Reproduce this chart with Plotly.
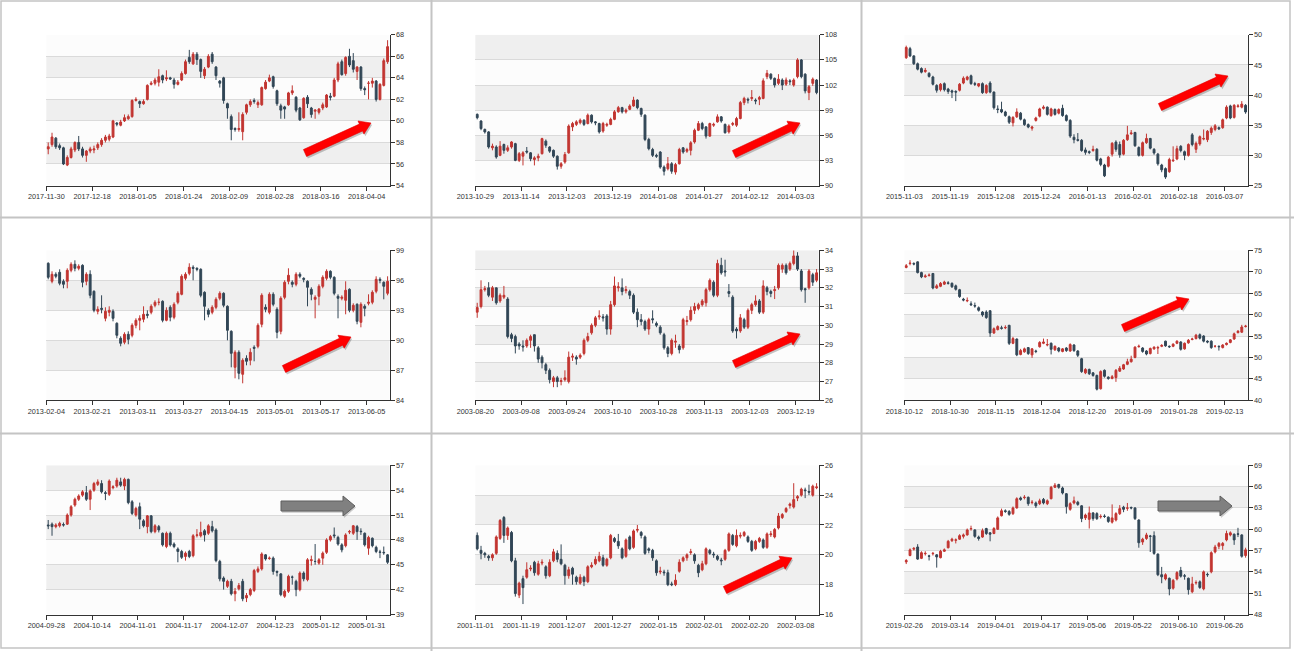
import math

import plotly.graph_objects as go


# --- data: 9 candlestick panels, 90 trading days each ---

p1_ticks = ["2017-11-30", "2017-12-18", "2018-01-05", "2018-01-24", "2018-02-09", "2018-02-28", "2018-03-16", "2018-04-04"]
p1_open = [57.4, 57.8, 58.4, 57.7, 57.5, 55.9, 56.6, 57.3, 58.0, 57.4,
           56.8, 57.2, 57.3, 57.5, 57.8, 58.2, 58.3, 58.5, 59.8, 59.6,
           60.0, 60.2, 60.4, 61.9, 61.8, 61.6, 62.0, 63.4, 63.5, 63.6,
           64.2, 63.9, 64.0, 63.8, 63.4, 63.8, 64.4, 65.9, 65.3, 66.2,
           65.7, 64.2, 65.0, 66.2, 65.0, 63.7, 64.0, 61.6, 60.4, 59.3,
           59.2, 59.0, 60.8, 61.5, 61.9, 61.5, 61.5, 63.0, 63.7, 64.1,
           62.8, 61.4, 61.3, 61.5, 62.6, 62.2, 61.2, 60.3, 62.2, 61.2,
           60.9, 60.8, 61.2, 61.3, 62.3, 62.3, 63.8, 65.5, 64.4, 66.0,
           65.6, 64.6, 65.0, 63.0, 63.5, 63.5, 63.7, 62.0, 63.3, 65.5]
p1_close = [57.6, 58.5, 57.6, 57.5, 56.0, 56.6, 57.4, 58.0, 57.4, 56.8,
            57.2, 57.4, 57.4, 57.8, 58.2, 58.5, 58.6, 60.0, 59.7, 59.9,
            60.3, 60.4, 61.9, 62.0, 61.6, 61.8, 63.3, 63.5, 63.8, 64.1,
            63.8, 64.0, 63.9, 63.4, 63.6, 64.4, 65.5, 65.5, 66.2, 65.7,
            64.6, 64.8, 66.0, 65.5, 64.2, 63.5, 61.9, 61.2, 59.2, 59.2,
            59.3, 60.6, 61.5, 61.8, 61.8, 61.7, 63.1, 63.6, 64.0, 63.2,
            61.6, 61.0, 61.1, 62.6, 62.8, 61.0, 60.1, 62.1, 61.6, 60.6,
            61.0, 61.1, 61.5, 62.4, 62.2, 63.8, 65.3, 64.3, 65.9, 65.2,
            64.8, 65.0, 63.0, 62.9, 63.5, 63.7, 62.0, 63.4, 65.6, 66.9]
p1_high = [58.0, 58.9, 58.5, 57.9, 57.6, 56.8, 57.6, 58.1, 58.6, 57.6,
           57.3, 57.6, 57.7, 58.0, 58.4, 58.7, 58.8, 60.1, 59.9, 60.1,
           60.6, 60.6, 62.0, 62.2, 61.9, 62.0, 63.4, 63.7, 64.0, 64.8,
           64.3, 64.7, 64.1, 64.0, 63.8, 64.6, 65.7, 66.6, 66.4, 66.4,
           65.8, 65.0, 66.2, 66.4, 65.1, 63.8, 64.1, 61.7, 60.6, 59.4,
           60.8, 60.8, 61.6, 62.0, 62.1, 61.9, 63.2, 63.8, 64.3, 64.2,
           62.9, 61.6, 61.4, 62.7, 63.3, 62.3, 61.3, 62.2, 62.4, 61.3,
           61.1, 61.2, 61.7, 62.5, 62.6, 64.0, 65.5, 65.7, 66.0, 66.7,
           66.3, 65.1, 65.1, 63.2, 63.7, 64.0, 63.8, 63.5, 65.8, 67.5]
p1_low = [56.9, 57.6, 57.4, 57.3, 55.9, 55.8, 56.5, 57.1, 57.2, 56.6,
          56.2, 57.0, 57.0, 57.3, 57.6, 58.0, 58.1, 58.4, 59.5, 59.5,
          59.9, 60.1, 60.3, 61.8, 61.2, 61.5, 61.9, 63.3, 63.3, 63.2,
          63.5, 63.7, 63.8, 63.0, 63.3, 63.7, 64.3, 65.3, 65.2, 65.2,
          64.0, 63.9, 64.9, 65.3, 63.8, 63.1, 61.6, 60.2, 58.2, 59.0,
          59.0, 58.2, 60.6, 61.3, 61.6, 61.2, 61.4, 62.9, 63.6, 63.0,
          61.4, 60.2, 60.2, 61.4, 62.4, 60.8, 60.0, 60.2, 61.2, 60.3,
          60.2, 60.6, 61.0, 61.2, 61.9, 62.2, 63.6, 64.2, 64.2, 65.0,
          64.5, 63.8, 62.8, 62.4, 62.0, 63.1, 61.8, 61.9, 63.2, 65.3]

p2_ticks = ["2013-10-29", "2013-11-14", "2013-12-03", "2013-12-19", "2014-01-08", "2014-01-27", "2014-02-12", "2014-03-03"]
p2_open = [98.5, 97.7, 96.7, 96.4, 94.5, 94.6, 93.6, 94.9, 94.2, 94.6,
           95.0, 93.0, 93.5, 94.1, 93.9, 93.1, 93.3, 93.8, 95.3, 94.6,
           94.2, 93.5, 92.3, 92.8, 93.9, 97.0, 97.3, 97.5, 97.8, 97.4,
           98.4, 97.6, 97.4, 96.5, 97.2, 97.3, 97.9, 98.8, 99.3, 98.8,
           99.1, 99.5, 100.2, 99.2, 98.4, 95.5, 94.3, 93.6, 94.0, 92.2,
           92.0, 92.6, 91.6, 92.6, 94.5, 94.1, 94.2, 95.2, 96.6, 97.4,
           97.0, 95.9, 97.2, 97.6, 98.2, 97.3, 96.4, 97.3, 97.2, 98.0,
           99.9, 100.3, 100.4, 100.2, 100.3, 100.4, 103.0, 103.3, 102.8, 102.2,
           102.6, 102.1, 102.5, 102.0, 103.0, 105.0, 103.3, 101.1, 102.2, 102.6]
p2_close = [98.1, 96.8, 96.4, 94.6, 94.7, 93.4, 94.7, 94.2, 94.5, 95.2,
            93.0, 93.8, 93.9, 94.0, 93.2, 93.3, 93.5, 95.6, 94.8, 94.1,
            93.5, 92.3, 92.6, 93.7, 97.1, 97.4, 97.6, 97.8, 97.3, 98.4,
            97.6, 97.5, 96.4, 97.4, 97.3, 97.9, 98.8, 99.3, 98.8, 99.0,
            99.5, 100.2, 99.3, 98.5, 95.5, 94.4, 93.6, 93.5, 92.2, 91.7,
            92.6, 91.7, 92.5, 94.3, 94.0, 94.3, 95.1, 96.6, 97.4, 96.8,
            95.9, 97.4, 97.3, 98.2, 97.7, 96.3, 97.1, 97.4, 98.0, 99.9,
            100.4, 100.2, 100.5, 100.1, 100.5, 102.5, 103.4, 102.8, 102.0, 102.7,
            102.0, 102.6, 102.4, 102.6, 105.0, 103.0, 101.3, 101.8, 102.7, 101.1]
p2_high = [98.6, 97.8, 96.8, 96.5, 95.0, 94.8, 95.3, 95.0, 94.8, 95.3,
           95.1, 94.0, 94.1, 94.6, 94.0, 93.5, 93.8, 95.7, 95.5, 94.7,
           94.3, 93.6, 92.8, 94.0, 97.3, 97.6, 97.8, 98.0, 97.9, 98.6,
           98.5, 97.7, 97.5, 97.6, 97.5, 98.1, 99.0, 99.5, 99.4, 99.2,
           99.7, 100.6, 100.3, 99.3, 98.5, 95.7, 94.5, 93.8, 94.1, 92.4,
           93.4, 92.8, 92.7, 94.5, 94.6, 94.5, 95.3, 96.8, 97.7, 97.6,
           97.1, 97.5, 97.5, 98.5, 98.3, 97.4, 97.3, 97.6, 98.2, 100.1,
           100.6, 100.5, 101.4, 100.4, 100.7, 102.8, 103.8, 103.4, 102.9, 103.3,
           102.8, 102.9, 102.7, 102.8, 105.2, 105.1, 103.4, 102.0, 102.9, 102.7]
p2_low = [97.9, 96.6, 96.2, 94.4, 94.2, 93.2, 93.5, 93.8, 94.0, 94.4,
          92.9, 92.8, 92.4, 93.8, 92.9, 92.4, 92.9, 93.7, 94.5, 93.9,
          93.3, 91.9, 92.0, 92.6, 93.8, 96.5, 97.1, 97.3, 97.1, 97.3,
          97.4, 97.2, 96.2, 96.3, 97.0, 97.2, 97.8, 98.7, 98.6, 98.6,
          99.0, 99.4, 99.1, 98.2, 95.3, 94.2, 93.4, 93.3, 92.0, 91.2,
          91.8, 91.4, 91.3, 92.5, 93.8, 93.9, 93.6, 95.0, 96.5, 96.6,
          95.6, 95.8, 97.0, 97.5, 97.5, 96.2, 96.2, 97.1, 97.0, 97.9,
          99.6, 99.8, 100.1, 99.7, 99.6, 100.3, 102.7, 102.6, 101.7, 102.0,
          101.4, 101.9, 102.0, 101.8, 102.8, 102.8, 101.0, 100.2, 101.9, 100.9]

p3_ticks = ["2015-11-03", "2015-11-19", "2015-12-08", "2015-12-24", "2016-01-13", "2016-02-01", "2016-02-18", "2016-03-07"]
p3_open = [46.2, 47.7, 46.5, 45.2, 44.4, 43.9, 43.6, 43.0, 41.6, 40.9,
           41.9, 41.0, 40.7, 40.6, 40.8, 42.0, 42.6, 43.2, 41.9, 41.5,
           41.9, 40.4, 42.0, 40.5, 37.7, 37.6, 37.2, 36.4, 35.4, 36.4,
           37.0, 35.9, 35.1, 34.5, 35.8, 36.5, 37.8, 38.0, 36.6, 37.6,
           37.0, 37.8, 36.6, 35.8, 33.0, 32.6, 32.5, 30.9, 30.6, 30.8,
           31.0, 29.4, 28.4, 28.2, 30.2, 32.2, 31.8, 30.2, 32.6, 33.6,
           33.8, 31.3, 30.0, 32.1, 32.8, 31.0, 30.2, 28.4, 27.8, 27.3,
           29.1, 29.4, 31.5, 30.6, 30.0, 33.4, 31.0, 31.9, 32.7, 32.6,
           33.8, 34.3, 34.6, 34.6, 36.2, 38.2, 36.3, 38.1, 38.0, 38.3]
p3_close = [47.9, 46.5, 45.2, 44.3, 43.8, 44.1, 43.1, 41.8, 40.8, 41.8,
            40.9, 40.6, 40.5, 40.5, 41.8, 42.8, 43.0, 41.9, 41.8, 41.9,
            40.4, 41.6, 40.5, 37.9, 37.6, 37.2, 36.6, 35.5, 36.3, 37.2,
            36.0, 35.1, 34.7, 34.7, 36.2, 37.7, 38.0, 36.8, 37.7, 36.8,
            37.6, 36.6, 35.8, 33.2, 32.6, 32.5, 30.8, 30.5, 30.5, 31.0,
            29.2, 28.5, 26.6, 29.7, 32.0, 31.0, 30.1, 32.5, 33.4, 33.7,
            31.6, 30.0, 32.1, 32.8, 31.2, 30.4, 28.6, 27.6, 26.4, 29.3,
            29.2, 31.1, 30.8, 30.0, 31.8, 31.8, 32.0, 33.1, 32.8, 34.0,
            34.5, 34.9, 34.4, 35.9, 38.0, 36.2, 38.3, 38.2, 38.5, 37.2]
p3_high = [48.2, 48.0, 46.6, 45.4, 44.6, 44.5, 43.8, 43.2, 41.8, 42.0,
           42.1, 41.2, 40.9, 40.8, 42.0, 43.1, 43.2, 43.4, 42.2, 42.0,
           42.1, 41.8, 42.3, 40.6, 38.3, 38.9, 37.4, 36.6, 36.5, 37.8,
           37.2, 36.1, 35.3, 34.9, 36.4, 37.9, 38.3, 38.1, 37.9, 37.8,
           37.8, 38.4, 36.8, 36.0, 33.5, 33.7, 32.7, 31.3, 30.8, 31.6,
           31.2, 29.6, 28.6, 29.9, 32.2, 32.5, 32.3, 32.7, 34.9, 34.2,
           33.9, 31.5, 32.3, 33.6, 32.9, 31.2, 30.4, 28.6, 28.0, 29.6,
           31.5, 31.6, 31.7, 30.8, 32.0, 33.7, 32.3, 33.3, 34.3, 34.2,
           34.8, 35.2, 34.8, 36.1, 38.3, 38.4, 38.5, 38.5, 39.0, 38.5]
p3_low = [46.0, 46.3, 45.0, 44.1, 43.6, 43.7, 42.9, 41.6, 40.4, 40.6,
          40.6, 40.2, 39.5, 39.0, 40.6, 41.8, 42.4, 41.7, 41.5, 41.3,
          40.2, 40.2, 40.3, 37.6, 37.0, 37.0, 36.4, 35.2, 34.8, 36.2,
          35.8, 34.9, 34.5, 34.1, 35.6, 36.3, 37.6, 36.6, 36.4, 36.6,
          36.8, 36.4, 35.6, 32.9, 32.0, 32.3, 30.6, 30.1, 30.2, 30.6,
          29.0, 28.2, 26.4, 28.0, 29.8, 30.6, 29.6, 30.0, 32.4, 33.4,
          31.4, 29.8, 29.8, 31.9, 31.0, 30.1, 28.3, 27.2, 26.1, 27.1,
          28.9, 29.2, 30.5, 29.2, 29.8, 31.5, 30.4, 31.6, 32.5, 32.2,
          33.4, 34.0, 34.2, 34.4, 36.0, 36.0, 36.1, 37.9, 37.8, 36.9]

p4_ticks = ["2013-02-04", "2013-02-21", "2013-03-11", "2013-03-27", "2013-04-15", "2013-05-01", "2013-05-17", "2013-06-05"]
p4_open = [97.7, 95.9, 96.6, 96.8, 95.9, 95.9, 97.0, 97.6, 97.2, 97.5,
           95.9, 96.6, 94.9, 92.9, 93.2, 92.2, 92.8, 92.9, 91.7, 90.2,
           89.8, 90.6, 90.5, 91.5, 92.0, 92.1, 92.6, 92.8, 93.5, 93.8,
           93.9, 92.0, 93.3, 92.3, 93.8, 94.6, 96.2, 96.7, 97.3, 97.2,
           97.1, 94.8, 93.0, 92.8, 93.3, 94.2, 94.7, 93.4, 90.9, 87.3,
           88.8, 86.6, 88.2, 88.0, 89.3, 89.4, 91.6, 93.3, 92.8, 94.6,
           93.1, 90.9, 94.3, 95.9, 95.8, 95.6, 96.6, 96.2, 95.9, 95.1,
           94.1, 94.4, 95.4, 96.2, 96.9, 96.3, 94.4, 94.2, 94.0, 95.1,
           93.0, 93.6, 91.8, 93.4, 93.7, 93.8, 94.9, 96.1, 95.8, 94.7]
p4_close = [96.3, 96.6, 96.4, 95.7, 95.6, 97.0, 97.6, 97.2, 97.4, 95.8,
            96.6, 94.5, 93.0, 93.1, 93.1, 92.9, 93.0, 92.2, 90.5, 89.7,
            90.6, 90.1, 91.5, 92.0, 92.2, 92.6, 92.5, 93.4, 93.8, 93.8,
            92.0, 93.0, 92.3, 93.6, 94.7, 96.4, 96.6, 97.3, 97.2, 97.1,
            94.5, 93.4, 92.6, 93.3, 94.1, 94.7, 93.5, 91.0, 88.7, 88.8,
            86.7, 88.0, 87.9, 88.8, 89.2, 91.5, 94.5, 93.1, 94.6, 93.6,
            90.8, 94.2, 95.8, 96.5, 95.6, 96.6, 96.4, 96.1, 95.3, 94.6,
            94.3, 95.4, 96.3, 96.9, 96.3, 94.7, 94.2, 94.3, 95.0, 93.0,
            93.5, 91.9, 93.6, 93.2, 93.8, 94.8, 96.1, 96.0, 95.4, 95.9]
p4_high = [97.8, 96.9, 96.8, 97.1, 96.1, 97.2, 97.8, 98.0, 97.6, 97.6,
           96.8, 97.0, 95.0, 93.4, 94.5, 93.3, 93.4, 93.1, 91.8, 90.4,
           90.8, 90.9, 91.7, 92.2, 92.5, 93.4, 93.0, 93.6, 94.0, 94.2,
           94.0, 93.3, 93.5, 93.8, 94.9, 96.6, 96.8, 97.7, 97.5, 97.3,
           97.2, 94.9, 93.2, 93.5, 94.3, 94.9, 94.8, 93.5, 91.0, 89.0,
           89.0, 88.2, 88.5, 89.2, 89.5, 91.7, 94.7, 93.6, 94.8, 94.8,
           93.3, 94.4, 96.0, 97.2, 96.0, 96.8, 96.8, 96.3, 96.0, 95.3,
           94.5, 95.6, 96.5, 97.1, 97.0, 96.4, 94.6, 94.5, 95.9, 95.2,
           93.7, 93.7, 93.8, 93.6, 94.6, 95.0, 96.4, 96.3, 95.9, 96.4]
p4_low = [96.1, 95.7, 96.2, 95.5, 95.2, 95.2, 96.8, 96.9, 97.0, 95.3,
          95.5, 94.2, 92.8, 92.6, 92.7, 91.9, 92.4, 91.9, 90.2, 89.4,
          89.6, 89.6, 90.3, 91.2, 91.0, 91.8, 92.2, 92.6, 93.3, 93.5,
          91.8, 91.9, 91.9, 92.1, 93.6, 94.5, 96.0, 96.5, 96.0, 96.9,
          94.3, 92.0, 92.3, 92.6, 93.1, 94.0, 93.3, 90.0, 87.3, 86.2,
          86.1, 85.7, 87.5, 87.5, 87.9, 89.2, 91.3, 92.8, 92.6, 93.4,
          90.2, 90.6, 94.1, 95.6, 95.3, 95.4, 96.2, 95.8, 93.4, 94.0,
          92.2, 93.5, 95.2, 96.0, 96.1, 94.5, 92.2, 94.0, 92.6, 92.8,
          92.8, 91.6, 91.3, 92.4, 93.5, 93.6, 94.7, 95.7, 94.1, 94.5]

p5_ticks = ["2003-08-20", "2003-09-08", "2003-09-24", "2003-10-10", "2003-10-28", "2003-11-13", "2003-12-03", "2003-12-19"]
p5_open = [30.7, 31.0, 31.9, 32.0, 31.5, 32.0, 31.3, 31.5, 31.4, 29.5,
           29.4, 29.0, 28.9, 28.9, 29.2, 29.5, 28.8, 28.3, 27.9, 27.6,
           27.0, 27.2, 27.0, 27.1, 27.0, 28.3, 28.3, 28.3, 28.5, 29.2,
           29.6, 30.0, 30.45, 30.45, 30.5, 29.8, 31.1, 32.0, 32.0, 31.85,
           31.8, 31.6, 30.7, 30.3, 30.2, 29.8, 30.35, 30.1, 29.9, 29.5,
           28.8, 28.5, 29.1, 28.9, 28.8, 30.2, 30.3, 30.8, 30.9, 31.1,
           31.2, 31.9, 32.3, 31.6, 33.2, 32.9, 31.8, 31.5, 29.8, 29.7,
           30.3, 29.9, 30.8, 31.1, 31.3, 30.7, 32.0, 31.8, 31.85, 32.0,
           33.0, 33.2, 33.0, 33.3, 33.7, 32.9, 31.95, 32.0, 32.7, 32.4]
p5_close = [30.95, 31.9, 31.95, 31.6, 32.0, 31.2, 31.6, 31.6, 29.4, 29.3,
            28.9, 28.9, 28.85, 29.2, 29.4, 28.9, 28.2, 28.0, 27.6, 27.1,
            27.2, 27.0, 27.05, 27.2, 28.3, 28.35, 28.2, 28.4, 29.2, 29.4,
            30.0, 30.4, 30.5, 30.4, 29.8, 31.1, 32.1, 32.05, 31.8, 31.9,
            31.6, 30.7, 30.3, 30.2, 29.8, 30.3, 30.3, 30.0, 29.6, 28.8,
            28.5, 29.2, 29.15, 28.7, 30.3, 30.25, 30.8, 31.0, 31.1, 31.3,
            31.9, 32.4, 31.6, 33.3, 32.8, 32.85, 31.7, 29.7, 29.7, 30.4,
            29.9, 30.8, 31.1, 31.3, 30.7, 32.1, 31.8, 31.7, 31.9, 33.2,
            33.2, 32.8, 33.3, 33.7, 33.0, 31.9, 31.9, 32.9, 32.3, 32.8]
p5_high = [31.2, 32.4, 32.1, 32.3, 32.1, 32.0, 31.7, 32.1, 31.5, 29.6,
           29.5, 29.1, 29.2, 29.3, 29.5, 29.5, 28.9, 28.4, 28.0, 27.7,
           27.3, 27.3, 27.2, 27.6, 28.6, 28.5, 28.4, 28.5, 29.3, 29.6,
           30.1, 30.5, 30.8, 30.6, 30.6, 31.3, 32.6, 32.3, 32.5, 32.1,
           31.9, 31.7, 30.9, 30.6, 30.3, 30.4, 30.8, 30.2, 30.0, 29.6,
           28.9, 29.3, 29.5, 29.0, 30.4, 30.5, 31.0, 31.2, 31.2, 31.4,
           32.0, 32.5, 32.4, 33.5, 33.6, 33.5, 32.2, 31.6, 29.9, 30.6,
           30.4, 30.9, 31.2, 31.6, 31.4, 32.4, 32.1, 31.9, 32.1, 33.3,
           33.3, 33.3, 33.4, 34.0, 33.9, 33.0, 32.0, 33.0, 32.8, 33.0]
p5_low = [30.4, 30.9, 31.8, 31.5, 31.3, 31.1, 31.2, 31.4, 29.3, 29.1,
          28.5, 28.7, 28.6, 28.8, 28.8, 28.6, 28.0, 27.7, 27.4, 26.9,
          26.7, 26.7, 26.8, 27.0, 26.9, 28.1, 27.9, 28.2, 28.4, 29.1,
          29.5, 29.9, 30.3, 30.2, 29.5, 29.5, 31.0, 31.8, 31.6, 31.7,
          31.4, 30.6, 29.9, 30.0, 29.7, 29.5, 30.1, 29.9, 29.5, 28.7,
          28.3, 28.4, 28.8, 28.5, 28.7, 30.0, 30.2, 30.6, 30.8, 31.0,
          31.0, 31.8, 31.5, 31.5, 32.7, 32.6, 31.5, 29.6, 29.3, 29.6,
          29.8, 29.8, 30.6, 31.0, 30.6, 30.6, 31.6, 31.5, 31.4, 31.9,
          32.8, 32.7, 32.9, 33.2, 32.9, 31.8, 31.2, 31.9, 32.1, 32.3]

p6_ticks = ["2018-10-12", "2018-10-30", "2018-11-15", "2018-12-04", "2018-12-20", "2019-01-09", "2019-01-28", "2019-02-13"]
p6_open = [71.0, 71.9, 71.9, 72.3, 69.8, 68.8, 69.1, 69.6, 66.2, 66.6,
           67.1, 67.4, 67.3, 66.7, 65.8, 63.6, 63.2, 62.5, 62.1, 61.6,
           60.6, 60.6, 60.9, 55.7, 56.5, 56.9, 56.9, 57.5, 53.3, 54.3,
           50.7, 51.3, 52.3, 50.6, 51.5, 52.5, 53.3, 52.9, 53.3, 51.8,
           52.2, 51.4, 52.2, 51.5, 52.9, 51.5, 49.7, 46.4, 47.2, 46.4,
           45.8, 42.7, 47.0, 45.4, 45.1, 45.3, 46.8, 47.3, 48.4, 49.0,
           50.0, 52.5, 52.2, 51.5, 50.9, 52.0, 52.2, 52.6, 53.8, 52.6,
           52.6, 53.3, 53.6, 52.0, 53.4, 54.2, 54.4, 55.3, 55.0, 53.8,
           53.8, 52.6, 52.6, 52.3, 53.0, 53.5, 54.3, 55.8, 55.9, 57.2]
p6_close = [71.4, 72.0, 71.8, 69.8, 68.8, 69.0, 69.2, 66.2, 66.7, 67.3,
            67.6, 67.3, 66.5, 65.9, 64.2, 63.4, 63.3, 62.3, 62.0, 61.0,
            59.9, 59.3, 55.7, 56.7, 57.2, 56.8, 57.0, 53.3, 54.4, 50.6,
            51.6, 52.0, 50.9, 52.0, 51.4, 53.5, 53.6, 53.0, 51.9, 52.6,
            51.5, 52.0, 51.6, 53.0, 51.6, 50.5, 46.7, 47.2, 46.2, 45.8,
            42.6, 46.7, 45.6, 45.1, 45.5, 47.0, 47.5, 48.3, 49.0, 49.6,
            52.4, 52.6, 51.4, 50.8, 52.1, 52.4, 52.3, 52.8, 52.7, 52.5,
            53.1, 53.8, 51.9, 53.3, 54.0, 54.3, 55.2, 54.5, 53.8, 53.6,
            52.3, 52.6, 52.5, 52.9, 53.3, 54.1, 55.5, 56.1, 57.1, 57.3]
p6_high = [71.8, 72.7, 72.2, 72.4, 70.0, 69.4, 69.6, 69.7, 67.1, 67.6,
           67.9, 67.8, 67.5, 67.0, 66.0, 63.9, 64.0, 63.1, 62.8, 61.9,
           60.8, 61.0, 61.0, 57.0, 57.5, 57.4, 57.5, 57.6, 54.8, 54.4,
           52.0, 52.3, 52.4, 52.2, 51.8, 53.8, 54.4, 54.3, 53.5, 52.8,
           52.4, 52.2, 52.4, 53.3, 53.1, 51.7, 49.9, 47.5, 47.4, 46.6,
           46.0, 47.0, 47.2, 45.6, 45.9, 47.3, 48.0, 48.5, 49.7, 50.4,
           52.6, 53.0, 52.4, 51.7, 52.3, 52.6, 52.7, 53.1, 53.9, 52.8,
           53.3, 54.0, 53.8, 53.5, 54.3, 54.6, 55.5, 55.6, 55.2, 54.0,
           54.0, 52.9, 52.8, 53.1, 53.5, 54.3, 55.8, 56.4, 57.6, 57.6]
p6_low = [70.8, 71.5, 71.5, 69.6, 68.5, 68.6, 68.9, 65.9, 66.0, 66.4,
          66.9, 67.0, 66.2, 65.6, 63.9, 63.1, 62.9, 62.0, 61.6, 60.7,
          59.5, 59.0, 54.8, 55.5, 56.3, 56.5, 56.6, 52.9, 53.1, 50.3,
          50.5, 51.1, 50.6, 49.9, 51.0, 52.3, 53.1, 52.6, 50.7, 51.5,
          51.2, 51.2, 51.3, 51.3, 51.3, 50.1, 46.4, 46.1, 45.9, 45.5,
          42.3, 42.5, 45.3, 44.8, 44.9, 44.3, 46.6, 47.1, 48.2, 48.8,
          49.8, 52.3, 51.1, 50.5, 50.7, 51.8, 50.8, 52.4, 52.5, 52.2,
          52.4, 53.1, 51.6, 51.8, 53.2, 54.0, 54.2, 54.2, 53.5, 53.3,
          52.0, 52.3, 51.6, 52.1, 52.8, 53.3, 54.1, 55.6, 55.7, 57.0]

p7_ticks = ["2004-09-28", "2004-10-14", "2004-11-01", "2004-11-17", "2004-12-07", "2004-12-23", "2005-01-12", "2005-01-31"]
p7_open = [49.8, 49.9, 49.6, 49.7, 49.85, 49.9, 51.0, 52.2, 52.9, 53.4,
           53.7, 52.9, 54.0, 54.7, 54.8, 53.7, 53.5, 54.3, 54.5, 55.0,
           54.5, 55.3, 52.6, 51.0, 52.0, 50.3, 49.6, 50.9, 49.0, 49.6,
           48.8, 47.2, 48.8, 47.5, 46.9, 46.6, 46.0, 46.6, 46.1, 48.55,
           48.5, 49.1, 48.8, 49.6, 49.2, 45.4, 43.4, 42.4, 43.0, 41.5,
           42.1, 43.0, 41.0, 41.4, 41.9, 44.2, 44.5, 46.2, 45.75, 45.8,
           44.2, 43.9, 41.2, 41.8, 43.5, 43.0, 42.0, 44.0, 43.2, 45.5,
           45.4, 45.2, 45.8, 46.5, 48.0, 48.6, 48.3, 47.4, 47.3, 48.95,
           48.8, 49.6, 49.05, 48.8, 47.0, 48.2, 47.1, 46.55, 46.5, 46.2]
p7_close = [49.7, 49.6, 49.8, 50.0, 49.8, 51.0, 52.0, 52.9, 53.3, 53.8,
            52.9, 53.9, 54.8, 55.0, 53.8, 53.6, 55.1, 54.4, 55.2, 54.6,
            55.3, 52.5, 51.2, 51.8, 50.5, 49.7, 50.9, 49.0, 49.7, 49.2,
            47.4, 48.8, 47.4, 47.2, 46.6, 45.9, 46.4, 46.0, 48.5, 48.6,
            48.9, 48.6, 49.7, 49.1, 45.5, 43.3, 43.0, 43.0, 41.5, 41.8,
            42.5, 40.9, 41.3, 42.0, 44.3, 44.5, 46.3, 45.7, 45.8, 44.2,
            44.1, 41.4, 41.8, 43.6, 43.5, 42.0, 44.0, 43.3, 45.6, 45.6,
            45.4, 45.6, 46.4, 48.0, 48.4, 48.5, 47.5, 46.8, 48.6, 49.0,
            49.7, 49.0, 49.0, 47.4, 48.3, 47.3, 46.6, 46.5, 46.45, 45.3]
p7_high = [50.4, 50.1, 50.0, 50.2, 50.1, 51.2, 52.2, 53.1, 53.5, 54.0,
           54.5, 54.1, 55.0, 55.3, 55.2, 53.9, 55.3, 54.6, 55.5, 55.5,
           55.5, 55.4, 52.8, 52.0, 52.5, 50.5, 51.0, 51.0, 49.9, 49.8,
           48.9, 49.0, 49.0, 47.7, 47.1, 46.8, 46.6, 46.8, 48.7, 49.3,
           50.2, 49.3, 49.9, 50.3, 49.4, 45.6, 43.6, 43.2, 43.3, 42.2,
           42.8, 43.3, 41.6, 42.2, 44.5, 44.8, 46.5, 46.3, 46.0, 46.0,
           44.3, 44.0, 42.0, 43.8, 43.7, 43.2, 44.2, 44.2, 45.8, 46.1,
           47.5, 45.8, 46.6, 48.2, 48.6, 49.5, 48.5, 47.6, 48.8, 49.2,
           49.8, 49.8, 49.4, 48.9, 48.5, 48.3, 47.3, 46.8, 47.2, 46.3]
p7_low = [49.3, 48.5, 49.4, 49.5, 49.6, 49.8, 50.8, 52.0, 52.7, 53.2,
          52.7, 51.6, 53.8, 54.5, 53.6, 52.8, 53.3, 54.1, 54.3, 54.4,
          54.0, 52.3, 51.0, 50.8, 49.3, 49.5, 48.8, 48.8, 48.8, 48.9,
          47.2, 47.0, 47.2, 47.0, 45.3, 45.7, 45.5, 45.8, 45.9, 48.3,
          48.3, 47.8, 48.6, 48.9, 45.3, 43.0, 42.0, 42.2, 41.3, 40.6,
          41.9, 40.6, 40.5, 41.2, 41.7, 44.0, 44.3, 45.5, 45.6, 43.8,
          43.6, 41.2, 41.0, 41.6, 42.6, 41.2, 41.8, 43.0, 43.0, 44.9,
          45.0, 45.0, 45.0, 46.3, 47.8, 48.2, 47.3, 46.5, 47.1, 48.7,
          48.6, 48.0, 48.6, 47.2, 46.2, 47.1, 46.4, 45.8, 46.2, 45.1]

p8_ticks = ["2001-11-01", "2001-11-19", "2001-12-07", "2001-12-27", "2002-01-15", "2002-02-01", "2002-02-20", "2002-03-08"]
p8_open = [21.3, 20.3, 20.1, 19.9, 19.8, 20.1, 21.1, 22.5, 21.3, 21.5,
           19.6, 17.3, 18.4, 18.5, 19.05, 19.5, 18.7, 19.45, 19.2, 18.6,
           19.6, 20.1, 19.7, 19.3, 18.6, 19.1, 18.5, 18.1, 18.5, 18.2,
           19.2, 19.4, 19.6, 19.8, 19.3, 19.8, 21.1, 20.9, 20.4, 19.9,
           21.2, 20.5, 21.65, 21.5, 21.2, 20.4, 20.3, 19.6, 18.85, 18.85,
           18.8, 18.05, 18.0, 18.9, 19.6, 19.8, 20.15, 20.0, 19.3, 19.0,
           19.4, 20.3, 20.05, 19.9, 19.65, 19.7, 20.3, 21.3, 20.6, 21.25,
           21.3, 21.2, 20.9, 20.4, 20.9, 21.0, 20.5, 21.35, 21.2, 21.8,
           22.5, 22.9, 23.3, 23.2, 23.8, 24.0, 24.35, 24.25, 24.0, 24.5]
p8_close = [20.4, 20.1, 20.0, 19.8, 20.0, 21.2, 22.3, 21.3, 21.8, 19.6,
            17.4, 18.1, 17.8, 19.0, 19.1, 18.8, 19.4, 19.5, 18.6, 19.5,
            20.2, 19.7, 19.4, 18.6, 19.0, 18.7, 18.2, 18.5, 18.2, 19.2,
            19.3, 19.7, 19.9, 19.3, 19.7, 21.3, 20.9, 20.6, 19.8, 21.0,
            20.4, 21.6, 21.7, 21.3, 20.1, 20.3, 19.8, 18.8, 18.9, 18.8,
            18.0, 18.0, 18.3, 19.5, 19.8, 20.0, 20.2, 19.6, 18.8, 19.4,
            20.4, 20.1, 20.0, 19.7, 19.6, 20.3, 21.4, 20.7, 21.3, 21.3,
            21.5, 20.9, 20.3, 20.9, 21.1, 20.5, 21.4, 21.4, 21.7, 22.6,
            22.7, 23.1, 23.4, 23.7, 23.9, 24.4, 24.3, 24.2, 24.6, 24.55]
p8_high = [21.5, 20.6, 20.2, 20.0, 20.1, 21.3, 22.4, 22.6, 21.9, 21.6,
           19.8, 18.2, 18.6, 19.5, 19.3, 19.6, 19.6, 19.7, 19.3, 19.7,
           20.4, 20.3, 20.7, 19.4, 19.2, 19.2, 18.6, 18.7, 18.6, 19.3,
           19.5, 19.9, 20.2, 20.0, 19.8, 21.4, 21.2, 21.4, 20.5, 21.1,
           21.3, 21.7, 22.0, 21.6, 21.3, 20.5, 20.4, 19.7, 19.2, 19.0,
           19.0, 18.2, 18.7, 19.7, 19.9, 20.1, 20.4, 20.1, 19.4, 19.6,
           20.5, 20.4, 20.2, 20.0, 19.8, 20.4, 21.5, 21.4, 21.7, 21.5,
           21.6, 21.3, 21.0, 21.0, 21.2, 21.1, 21.5, 21.6, 21.8, 22.8,
           22.8, 23.2, 23.5, 24.8, 24.0, 24.5, 24.5, 24.7, 24.7, 24.8]
p8_low = [20.3, 19.7, 19.8, 19.6, 19.6, 20.0, 21.0, 20.8, 21.0, 19.5,
          17.2, 17.1, 16.7, 18.4, 18.9, 18.6, 18.6, 19.3, 18.4, 18.5,
          19.5, 19.5, 19.3, 18.0, 18.4, 18.0, 18.0, 18.0, 17.9, 18.1,
          19.1, 19.3, 19.5, 19.2, 19.2, 19.7, 20.8, 20.4, 19.7, 19.8,
          20.3, 20.4, 21.5, 21.1, 20.0, 20.1, 19.6, 18.6, 18.7, 18.6,
          17.9, 17.9, 17.9, 18.8, 19.5, 19.6, 20.0, 19.4, 18.5, 18.9,
          19.3, 20.0, 19.8, 19.6, 19.3, 19.6, 20.2, 20.6, 20.5, 21.1,
          21.2, 20.8, 20.2, 20.3, 20.8, 20.4, 20.4, 21.2, 21.1, 21.7,
          22.4, 22.8, 23.1, 23.1, 23.6, 23.9, 23.8, 24.0, 23.9, 24.4]

p9_ticks = ["2019-02-26", "2019-03-14", "2019-04-01", "2019-04-17", "2019-05-06", "2019-05-22", "2019-06-10", "2019-06-26"]
p9_open = [55.4, 56.3, 57.2, 57.5, 55.9, 56.55, 56.25, 56.55, 56.4, 56.0,
           56.9, 57.4, 58.4, 58.45, 58.6, 59.0, 59.2, 60.05, 59.9, 58.9,
           58.9, 60.1, 59.5, 59.4, 60.0, 61.9, 62.6, 62.5, 62.2, 63.0,
           64.4, 64.45, 64.5, 63.75, 63.7, 63.6, 64.2, 63.6, 64.3, 65.9,
           66.3, 65.8, 65.0, 62.8, 63.7, 63.8, 63.3, 61.6, 61.4, 62.3,
           62.2, 61.75, 61.85, 61.7, 61.0, 61.3, 62.2, 63.1, 62.95, 63.05,
           63.0, 61.3, 58.2, 58.7, 59.05, 59.1, 56.5, 53.6, 53.0, 53.1,
           51.7, 53.0, 54.2, 53.45, 53.1, 51.2, 52.45, 52.6, 51.6, 53.65,
           54.0, 56.8, 57.6, 57.7, 58.5, 59.2, 59.3, 59.35, 59.2, 56.3]
p9_close = [55.6, 57.1, 57.3, 55.8, 56.7, 56.6, 56.2, 56.6, 56.1, 56.9,
            57.1, 58.3, 58.6, 58.5, 59.1, 59.2, 59.9, 60.1, 59.0, 58.7,
            59.8, 59.4, 59.3, 60.1, 61.6, 62.6, 62.5, 62.1, 63.0, 64.3,
            64.2, 64.5, 63.6, 63.8, 63.3, 64.0, 63.7, 64.0, 65.9, 66.2,
            65.9, 65.1, 63.2, 63.6, 64.0, 63.5, 61.5, 62.0, 62.3, 61.5,
            61.5, 61.8, 61.8, 61.1, 61.6, 62.2, 62.9, 62.8, 63.0, 63.0,
            61.5, 58.1, 58.6, 59.2, 59.0, 56.6, 53.6, 53.3, 53.6, 51.6,
            52.8, 53.9, 53.4, 53.4, 51.5, 52.3, 52.5, 51.8, 54.0, 53.6,
            56.7, 57.5, 58.0, 58.0, 59.4, 59.5, 58.5, 59.3, 56.2, 57.1]
p9_high = [55.8, 57.3, 57.5, 57.9, 56.9, 56.9, 56.4, 56.8, 56.5, 57.1,
           57.3, 58.5, 58.8, 58.7, 59.3, 59.4, 60.1, 60.5, 60.0, 59.1,
           60.1, 60.2, 59.6, 60.3, 61.8, 62.9, 62.8, 62.7, 63.2, 64.5,
           64.6, 64.8, 64.6, 64.1, 63.9, 64.3, 64.4, 64.2, 66.1, 66.5,
           66.4, 66.0, 65.1, 63.8, 64.6, 64.0, 63.4, 62.2, 63.2, 62.4,
           62.4, 62.1, 62.1, 61.8, 63.5, 62.4, 63.4, 63.3, 63.7, 63.2,
           63.1, 61.4, 58.8, 59.5, 59.2, 59.7, 56.6, 54.7, 53.8, 53.2,
           53.0, 54.1, 54.7, 53.7, 53.2, 53.3, 52.8, 52.8, 54.2, 53.9,
           56.9, 57.8, 58.2, 58.2, 59.8, 59.7, 59.4, 60.2, 59.3, 57.4]
p9_low = [55.1, 56.2, 57.0, 55.7, 55.8, 56.3, 55.6, 56.3, 54.6, 55.9,
          56.8, 57.3, 58.2, 58.0, 58.5, 58.7, 59.1, 59.8, 58.8, 58.4,
          58.8, 59.2, 58.3, 59.3, 59.9, 61.8, 62.3, 61.9, 62.0, 62.9,
          64.0, 64.2, 63.3, 63.5, 63.0, 63.4, 63.5, 63.4, 64.2, 65.8,
          65.7, 64.9, 62.2, 62.6, 63.5, 63.3, 61.0, 61.3, 60.1, 61.2,
          61.3, 61.5, 61.6, 60.9, 60.8, 61.1, 62.0, 62.4, 62.6, 62.8,
          61.3, 57.4, 57.8, 58.5, 56.8, 56.4, 53.4, 52.4, 52.8, 50.7,
          51.5, 52.8, 53.2, 52.9, 50.8, 51.0, 52.2, 51.6, 51.4, 53.3,
          53.8, 56.6, 57.2, 57.1, 58.3, 59.0, 57.8, 58.9, 56.0, 56.0]

# y axis (min, max, step) for each panel
y_scales = [(54, 68, 2), (90, 108, 3), (25, 50, 5),
            (84, 99, 3), (26, 34, 1), (40, 75, 5),
            (39, 57, 3), (16, 26, 2), (48, 69, 3)]


# --- styling / layout constants ---

W = 1294
H = 651
UP = "#c23531"
DOWN = "#314656"
BAND_DARK = "#efefef"
BAND_LIGHT = "#fcfcfc"
GRID = "#dadada"
AXIS = "#333333"
LABEL = "#333333"
SEP = "#c4c4c4"
FONT = "Liberation Sans, Arial, sans-serif"
FONT_SIZE = 7.3

# plot area in pixels: columns (left, right), rows (top, bottom)
COLS = [(46.3, 389.5), (475.3, 818.5), (904.3, 1247.5)]
ROWS = [(34.8, 185.5), (250.3, 400.3), (465.3, 614.5)]

# arrows: (tail px, tip px, kind)
ARROWS = [((305, 153), (371, 123), "red"),
          ((734, 154), (800, 123), "red"),
          ((1160, 107), (1228, 76), "red"),
          ((284, 369), (351, 337), "red"),
          ((734, 364), (800, 334), "red"),
          ((1123, 328), (1189, 299), "red"),
          ((281, 506), (355, 506), "gray"),
          ((725, 590), (792, 558), "red"),
          ((1158, 506), (1232, 506), "gray")]


def px(x, y):
    return "{:.5f},{:.5f}".format(x / W, 1 - y / H)


def arrow_path(tail, tip, shaft, head, head_len, off=(0, 0)):
    x0, y0 = tail[0] + off[0], tail[1] + off[1]
    x1, y1 = tip[0] + off[0], tip[1] + off[1]
    d = math.hypot(x1 - x0, y1 - y0)
    ux, uy = (x1 - x0) / d, (y1 - y0) / d
    nx, ny = -uy, ux
    bx, by = x1 - ux * head_len, y1 - uy * head_len
    pts = [(x0 + nx * shaft, y0 + ny * shaft),
           (bx + nx * shaft, by + ny * shaft),
           (bx + nx * head, by + ny * head),
           (x1, y1),
           (bx - nx * head, by - ny * head),
           (bx - nx * shaft, by - ny * shaft),
           (x0 - nx * shaft, y0 - ny * shaft)]
    return "M " + " L ".join(px(x, y) for x, y in pts) + " Z"


panels = [
    (p1_open, p1_high, p1_low, p1_close, p1_ticks),
    (p2_open, p2_high, p2_low, p2_close, p2_ticks),
    (p3_open, p3_high, p3_low, p3_close, p3_ticks),
    (p4_open, p4_high, p4_low, p4_close, p4_ticks),
    (p5_open, p5_high, p5_low, p5_close, p5_ticks),
    (p6_open, p6_high, p6_low, p6_close, p6_ticks),
    (p7_open, p7_high, p7_low, p7_close, p7_ticks),
    (p8_open, p8_high, p8_low, p8_close, p8_ticks),
    (p9_open, p9_high, p9_low, p9_close, p9_ticks),
]

fig = go.Figure()
shapes = []
layout = dict(
    template="none",
    width=W, height=H, autosize=False,
    margin=dict(l=0, r=0, t=0, b=0, pad=0),
    paper_bgcolor="white",
    plot_bgcolor="white",
    showlegend=False,
    font=dict(family=FONT, size=FONT_SIZE, color=AXIS),
)

for k, (o, h, l, c, ticks) in enumerate(panels):
    n = min(len(o), len(h), len(l), len(c))
    idx = list(range(n))
    sfx = "" if k == 0 else str(k + 1)
    row, col = divmod(k, 3)
    (xl, xr), (yt, yb) = COLS[col], ROWS[row]
    lo, hi, step = y_scales[k]

    fig.add_trace(go.Candlestick(
        x=idx, open=o[:n], high=h[:n], low=l[:n], close=c[:n],
        xaxis="x" + sfx, yaxis="y" + sfx,
        increasing=dict(line=dict(color=UP, width=1), fillcolor=UP),
        decreasing=dict(line=dict(color=DOWN, width=1), fillcolor=DOWN),
        whiskerwidth=0,
        hoverinfo="skip",
    ))

    layout["xaxis" + sfx] = dict(
        domain=[xl / W, xr / W],
        anchor="y" + sfx,
        range=[-0.5, n - 0.5],
        tickmode="array",
        tickvals=[12 * i - 0.5 for i in range(len(ticks))],
        ticktext=ticks,
        ticks="outside", ticklen=4, tickcolor=AXIS,
        showline=True, linecolor=AXIS, linewidth=1,
        showgrid=False, zeroline=False,
        automargin=False,
        rangeslider=dict(visible=False),
        tickfont=dict(family=FONT, size=FONT_SIZE, color=LABEL),
        fixedrange=True,
    )
    layout["yaxis" + sfx] = dict(
        domain=[1 - yb / H, 1 - yt / H],
        anchor="x" + sfx,
        side="right",
        range=[lo, hi],
        tickmode="linear", tick0=lo, dtick=step,
        ticks="outside", ticklen=4, tickcolor=AXIS,
        showline=True, linecolor=AXIS, linewidth=1,
        showgrid=True, gridcolor=GRID, gridwidth=1,
        zeroline=False,
        automargin=False,
        tickfont=dict(family=FONT, size=FONT_SIZE, color=LABEL),
        fixedrange=True,
    )

    # alternating split areas
    nb = int(round((hi - lo) / step))
    for b in range(nb):
        shapes.append(dict(
            type="rect", layer="below",
            xref="x" + sfx + " domain", x0=0, x1=1,
            yref="y" + sfx, y0=lo + b * step, y1=lo + (b + 1) * step,
            fillcolor=BAND_DARK if b % 2 else BAND_LIGHT,
            line=dict(width=0),
        ))

# arrows
for tail, tip, kind in ARROWS:
    if kind == "red":
        shapes.append(dict(type="path", xref="paper", yref="paper",
                           path=arrow_path(tail, tip, 4.0, 7.5, 11, off=(1.2, 1.8)),
                           fillcolor="rgba(90,90,90,0.35)", line=dict(width=0)))
        shapes.append(dict(type="path", xref="paper", yref="paper",
                           path=arrow_path(tail, tip, 3.8, 7.2, 11),
                           fillcolor="#ff0000", line=dict(color="#e00000", width=0.6)))
    else:
        shapes.append(dict(type="path", xref="paper", yref="paper",
                           path=arrow_path(tail, tip, 5.2, 10.5, 12, off=(1.0, 1.5)),
                           fillcolor="rgba(90,90,90,0.3)", line=dict(width=0)))
        shapes.append(dict(type="path", xref="paper", yref="paper",
                           path=arrow_path(tail, tip, 5.0, 10.0, 12),
                           fillcolor="#808080", line=dict(color="#5e5e5e", width=1)))

# tile separators and outer frame
for x in (431.5, 861.5):
    shapes.append(dict(type="line", xref="paper", yref="paper",
                       x0=x / W, x1=x / W, y0=0, y1=1,
                       line=dict(color=SEP, width=2)))
for y in (217.5, 433.5):
    shapes.append(dict(type="line", xref="paper", yref="paper",
                       x0=0, x1=1, y0=1 - y / H, y1=1 - y / H,
                       line=dict(color=SEP, width=2)))
shapes.append(dict(type="rect", xref="paper", yref="paper",
                   x0=1 / W, x1=1290 / W, y0=1 - 648 / H, y1=1 - 1 / H,
                   line=dict(color=SEP, width=1.5), fillcolor="rgba(0,0,0,0)"))

layout["shapes"] = shapes
fig.update_layout(**layout)

fig.write_html("out.html", config={"displayModeBar": False},
               post_script="document.body.style.margin='0';")
